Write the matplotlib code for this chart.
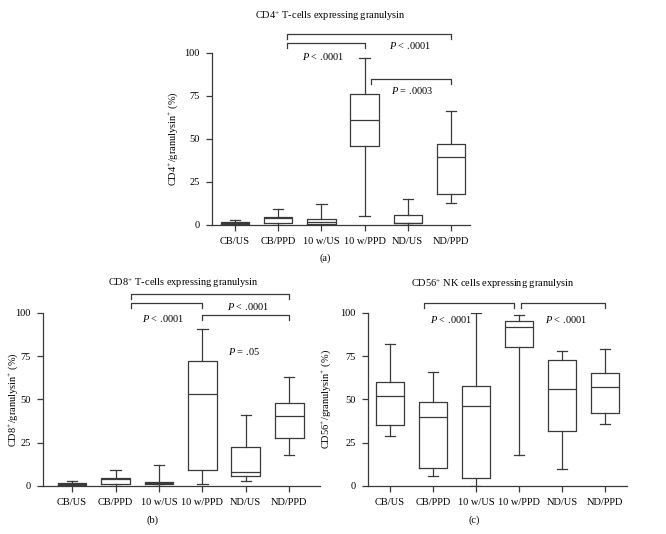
import numpy as np
import matplotlib
matplotlib.use("Agg")
import matplotlib.pyplot as plt

plt.rcParams['font.family'] = ['Liberation Serif', 'DejaVu Serif']
plt.rcParams['mathtext.fontset'] = 'custom'
plt.rcParams['mathtext.rm'] = 'Liberation Serif'
plt.rcParams['mathtext.it'] = 'Liberation Serif:italic'

groups = ['CB/US', 'CB/PPD', '10 w/US', '10 w/PPD', 'ND/US', 'ND/PPD']

# box stats per group: whisker low, q1, median, q3, whisker high
cd4_stats = [
    [0, 0.5, 1, 2, 3],
    [0, 1, 4, 4.5, 9],
    [0, 0.5, 2, 3.5, 12],
    [5, 46, 61, 76, 97],
    [0, 1, 1, 6, 15],
    [13, 18, 39.5, 47, 66],
]
cd8_stats = [
    [0, 0.5, 1, 2, 3],
    [0, 1, 4, 4.5, 9],
    [0, 1, 1.5, 2.5, 12],
    [1, 9, 53, 72, 91],
    [3, 5.5, 8, 22.5, 41],
    [18, 28, 40.5, 48, 63],
]
cd56_stats = [
    [29, 35, 52, 60, 82],
    [6, 10.5, 40, 48.5, 66],
    [0, 4.5, 46, 58, 100],
    [18, 80.5, 92, 95.5, 99],
    [10, 31.5, 56, 73, 78],
    [36, 42, 57, 65.5, 79],
]

# brackets: (x_start, x_end, y)
cd4_brackets = [(1.2, 5.0, 110.8), (1.2, 3.0, 105.6), (3.15, 5.0, 84.7)]
cd4_ptexts = [(2.05, 97.5, '$P$ < .0001'), (4.05, 103.9, '$P$ < .0001'), (4.1, 77.8, '$P$ = .0003')]
cd8_brackets = [(1.35, 5.0, 110.8), (1.35, 3.0, 106.0), (3.0, 5.0, 98.8)]
cd8_ptexts = [(2.1, 97.0, '$P$ < .0001'), (4.05, 103.5, '$P$ < .0001'), (3.95, 77.5, '$P$ = .05')]
cd56_brackets = [(0.8, 2.88, 105.8), (3.05, 5.0, 105.8)]
cd56_ptexts = [(1.43, 96.5, '$P$ < .0001'), (4.1, 96.5, '$P$ < .0001')]

LC = '#3a3a3a'
FS = 7.5


def draw_panel(ax, stats, brackets, ptexts, title, ylabel, letter, xlim, title_xy, letter_xy, ylab_x):
    bxp = []
    for s in stats:
        bxp.append(dict(whislo=s[0], q1=s[1], med=s[2], q3=s[3], whishi=s[4], fliers=[]))
    ax.bxp(bxp, positions=np.arange(len(stats)), widths=0.66, showfliers=False,
           boxprops=dict(color=LC, linewidth=0.9),
           medianprops=dict(color=LC, linewidth=0.9),
           whiskerprops=dict(color=LC, linewidth=0.9),
           capprops=dict(color=LC, linewidth=0.9), capwidths=0.24)
    ax.set_xlim(*xlim)
    ax.set_ylim(0, 100)
    ax.set_yticks([0, 25, 50, 75, 100])
    ax.set_xticks(np.arange(len(groups)))
    ax.set_xticklabels(groups)
    for sp in ['top', 'right']:
        ax.spines[sp].set_visible(False)
    for sp in ['left', 'bottom']:
        ax.spines[sp].set_color(LC)
        ax.spines[sp].set_linewidth(0.9)
    ax.tick_params(direction='out', length=4, width=0.9, color=LC, labelsize=FS, pad=5)
    ax.set_ylabel(ylabel, fontsize=FS)
    ax.yaxis.set_label_coords(ylab_x, 0.5)
    for x0, x1, y in brackets:
        ax.plot([x0, x0, x1, x1], [y - 3, y, y, y - 3], color=LC, lw=0.9, clip_on=False)
    for x, y, t in ptexts:
        ax.text(x, y, t, fontsize=FS, ha='center', va='center')
    ax.text(title_xy[0], title_xy[1], title, transform=ax.transAxes, ha='center', va='center', fontsize=FS)
    ax.text(letter_xy[0], letter_xy[1], letter, transform=ax.transAxes, ha='center', va='center', fontsize=FS)


fig = plt.figure(figsize=(6.66, 5.34), dpi=100)
ax_a = fig.add_axes([0.3183, 0.5787, 0.3874, 0.3227])
ax_b = fig.add_axes([0.0646, 0.0899, 0.4159, 0.324])
ax_c = fig.add_axes([0.5526, 0.0899, 0.3889, 0.324])

draw_panel(ax_a, cd4_stats, cd4_brackets, cd4_ptexts,
           'CD4$^{+}$ T-cells expressing granulysin',
           'CD4$^{+}$/granulysin$^{+}$ (%)', '(a)', (-0.53, 5.44),
           (0.457, 1.213), (0.438, -0.19), -0.124)
draw_panel(ax_b, cd8_stats, cd8_brackets, cd8_ptexts,
           'CD8$^{+}$ T-cells expressing granulysin',
           'CD8$^{+}$/granulysin$^{+}$ (%)', '(b)', (-0.67, 5.71),
           (0.505, 1.173), (0.397, -0.197), -0.083)
draw_panel(ax_c, cd56_stats, cd56_brackets, cd56_ptexts,
           'CD56$^{+}$ NK cells expressing granulysin',
           'CD56$^{+}$/granulysin$^{+}$ (%)', '(c)', (-0.51, 5.51),
           (0.483, 1.168), (0.409, -0.197), -0.135)

fig.savefig('out.png', dpi=100)
